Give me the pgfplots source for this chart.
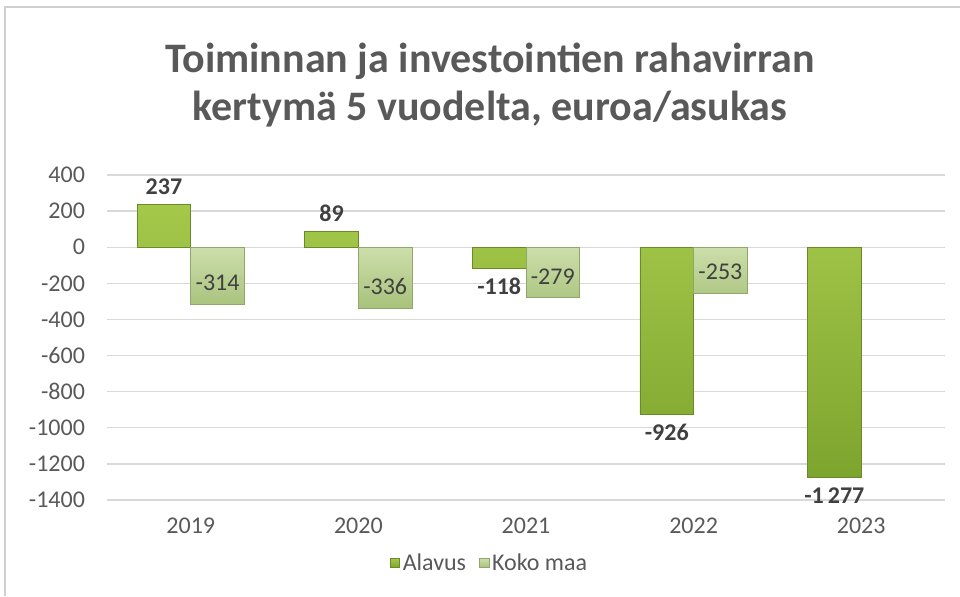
\documentclass[border=0pt]{standalone}
\usepackage{fontspec}
\setmainfont{Carlito}
\usepackage{pgfplots}
\pgfplotsset{compat=1.18}
\definecolor{TitleGray}{HTML}{595959}
\definecolor{LabelGray}{HTML}{404040}
\definecolor{GridGray}{HTML}{D9D9D9}
\definecolor{FrameGray}{HTML}{D0D0D0}
\definecolor{AlTop}{HTML}{A4C84A}
\definecolor{AlBot}{HTML}{7DA42E}
\definecolor{AlEdge}{HTML}{6A8A2A}
\definecolor{KmTop}{HTML}{CCDEAA}
\definecolor{KmBot}{HTML}{A8C27C}
\definecolor{KmEdge}{HTML}{8FA86A}

\begin{document}
\begin{tikzpicture}
\path[use as bounding box] (0pt,0pt) rectangle (720pt,447pt);
\draw[FrameGray, line width=1.5pt] (3.75pt,0pt) -- (3.75pt,441.75pt) -- (720pt,441.75pt);

\node[anchor=base, text=TitleGray, font=\bfseries\fontsize{31.5}{36}\selectfont] at (367.5pt,392.25pt) {Toiminnan ja investointien rahavirran};
\node[anchor=base, text=TitleGray, font=\bfseries\fontsize{31.5}{36}\selectfont] at (367.5pt,356.25pt) {kertymä 5 vuodelta, euroa/asukas};

\begin{axis}[
  at={(80.25pt,72pt)}, anchor=south west,
  scale only axis,
  width=628.5pt, height=243.75pt,
  ybar=0pt,
  bar width=0.32,
  xmin=-0.5, xmax=4.5,
  ymin=-1400, ymax=400,
  ytick={-1400,-1200,...,400},
  xtick={0,1,2,3,4},
  xticklabels={2019,2020,2021,2022,2023},
  /pgf/number format/assume math mode=true,
  /pgf/number format/1000 sep={},
  axis line style={draw=none},
  major tick length=0pt,
  ymajorgrids,
  grid style={GridGray, line width=1pt},
  tick label style={text=TitleGray, font=\fontsize{18}{21}\selectfont},
  xticklabel style={yshift=-10pt},
  yticklabel style={xshift=-13pt},
  point meta=y,
  nodes near coords={\pgfmathprintnumber[assume math mode=true, 1000 sep={\,}, fixed]{\pgfplotspointmeta}},
  legend columns=2,
  legend style={at={(0.457,-0.194)}, anchor=center, draw=none, fill=none,
    font=\fontsize{18}{21}\selectfont, text=TitleGray,
    /tikz/every even column/.append style={column sep=8pt}},
  legend image code/.code={\draw[#1] (0pt,-3.5pt) rectangle (7pt,3.5pt);},
  clip=false,
]
\addplot[top color=AlTop, bottom color=AlBot, draw=AlEdge, line width=0.5pt,
  every node near coord/.append style={text=LabelGray, font=\bfseries\fontsize{18}{21}\selectfont, inner sep=7pt}]
  coordinates {(0,237) (1,89) (2,-118) (3,-926) (4,-1277)};
\addplot[top color=KmTop, bottom color=KmBot, draw=KmEdge, line width=0.5pt,
  every node near coord/.append style={text=LabelGray, font=\fontsize{18}{21}\selectfont, anchor=center, yshift=16pt}]
  coordinates {(0,-314) (1,-336) (2,-279) (3,-253)};
\legend{Alavus, Koko maa}
\end{axis}
\end{tikzpicture}
\end{document}
